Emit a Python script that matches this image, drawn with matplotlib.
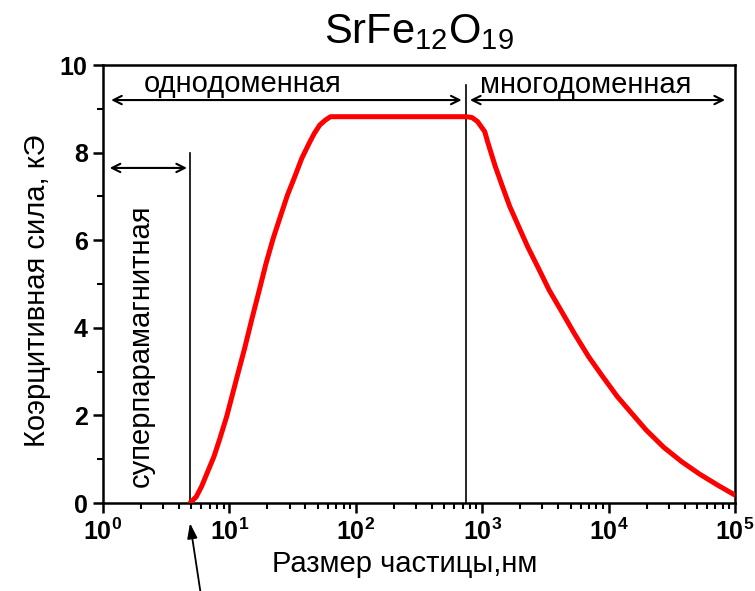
import math
import matplotlib
matplotlib.use("Agg")
import matplotlib.pyplot as plt
from matplotlib.ticker import FixedLocator, LogLocator, FuncFormatter, MultipleLocator

plt.rcParams['font.family'] = ['Liberation Sans', 'DejaVu Sans']
plt.rcParams['mathtext.fontset'] = 'custom'
plt.rcParams['mathtext.rm'] = 'Liberation Sans'
plt.rcParams['mathtext.bf'] = 'Liberation Sans:bold'
plt.rcParams['mathtext.it'] = 'Liberation Sans:italic'

# Кривая коэрцитивной силы
size_nm = [4.88, 5.46, 6.01, 7.55, 8.34, 9.51, 11.5, 13.2, 15.0, 17.1, 19.5,
           22.2, 25.3, 28.8, 32.9, 37.4, 42.7, 47.0, 51.9, 57.3, 63.1,
           753, 832, 918, 1047, 1114, 1271, 1449, 1652, 1945, 2291, 2786,
           3388, 4256, 5358, 6950, 9016, 11720, 15210, 19770, 27350, 38020,
           52480, 72780, 100000]
hc_ke = [0.0, 0.14, 0.37, 1.06, 1.44, 1.97, 2.88, 3.53, 4.18, 4.82, 5.47,
         6.04, 6.54, 7.03, 7.45, 7.87, 8.21, 8.44, 8.63, 8.74, 8.82,
         8.82, 8.80, 8.71, 8.48, 8.21, 7.68, 7.22, 6.77, 6.31, 5.85, 5.36,
         4.86, 4.37, 3.87, 3.34, 2.88, 2.43, 2.05, 1.67, 1.27, 0.94,
         0.66, 0.41, 0.18]

# Границы областей
d_sp = 4.9        # суперпарамагнитная граница
d_md = 745        # однодоменная / многодоменная

fig = plt.figure(figsize=(7.55, 5.91), dpi=100)
ax = fig.add_axes([0.1364, 0.1489, 0.8371, 0.7411])

ax.plot(size_nm, hc_ke, color='red', lw=3.6, solid_capstyle='round',
        solid_joinstyle='round', zorder=3)

ax.plot([d_sp, d_sp], [0, 8.0], color='black', lw=1.2)
ax.plot([d_md, d_md], [0, 9.55], color='black', lw=1.2)

arr = dict(arrowstyle='<->,head_length=0.6,head_width=0.3', color='black', lw=1.5,
           shrinkA=0, shrinkB=0)
ax.annotate('', xy=(1.16, 9.2), xytext=(688, 9.2), arrowprops=arr)
ax.annotate('', xy=(800, 9.2), xytext=(83400, 9.2), arrowprops=arr)
ax.annotate('', xy=(1.13, 7.65), xytext=(4.62, 7.65), arrowprops=arr)

ax.text(12.7, 9.39, 'однодоменная', fontsize=21, ha='center', va='baseline')
ax.text(6620, 9.36, 'многодоменная', fontsize=21, ha='center', va='baseline')
ax.text(2.0, 3.58, 'суперпарамагнитная', fontsize=21, rotation=90,
        ha='center', va='center')

ax.annotate('', xy=(4.88, -0.46), xytext=(6.1, -2.3),
            arrowprops=dict(arrowstyle='-|>,head_length=0.9,head_width=0.3',
                            color='black', lw=1.3, shrinkA=0, shrinkB=0),
            annotation_clip=False)

ax.set_xscale('log')
ax.set_xlim(1, 1e5)
ax.set_ylim(0, 10)
ax.xaxis.set_major_locator(FixedLocator([1, 10, 100, 1000, 1e4, 1e5]))
ax.xaxis.set_minor_locator(LogLocator(base=10, subs=range(2, 10), numticks=20))
ax.xaxis.set_major_formatter(FuncFormatter(lambda v, p: r'$\mathbf{10^{%d}}$' % round(math.log10(v))))
ax.yaxis.set_major_locator(MultipleLocator(2))
ax.yaxis.set_minor_locator(MultipleLocator(1))

ax.tick_params(which='major', direction='out', length=7, width=1.8, labelsize=18, pad=4)
ax.tick_params(which='minor', direction='out', length=4.5, width=1.5)
for lab in ax.get_yticklabels():
    lab.set_fontweight('bold')
for s in ax.spines.values():
    s.set_linewidth(1.8)

ax.set_xlabel('Размер частицы,нм', fontsize=21, labelpad=4)
ax.xaxis.label.set_x(0.478)
ax.set_ylabel('Коэрцитивная сила, кЭ', fontsize=21, labelpad=6)
ax.yaxis.label.set_y(0.484)
ax.set_title(r'SrFe$_{12}$O$_{19}$', fontsize=30, y=1.0, pad=16)

fig.savefig('out.png', dpi=100)
